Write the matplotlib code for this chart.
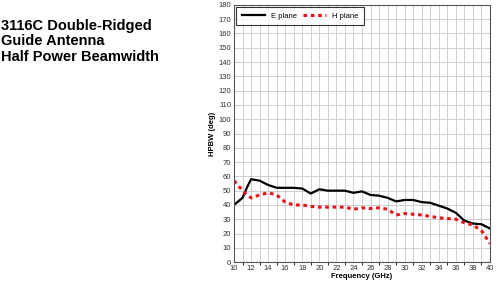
import numpy as np
import matplotlib.pyplot as plt

plt.rcParams['font.family'] = ['Liberation Sans', 'DejaVu Sans']

freq = [10, 11, 11.5, 12, 13, 14, 15, 16, 17, 18, 19, 20, 21, 22, 23, 24, 25,
        26, 27, 28, 29, 30, 31, 32, 33, 34, 35, 36, 37, 38, 39, 40]
e_plane = [40, 45, 52, 58, 57, 54, 52, 52, 52, 51.5, 48, 51, 50, 50, 50, 48.5,
           49.5, 47, 46.5, 45, 42.5, 43.5, 43.5, 42, 41.5, 39.5, 37.5, 34.5,
           29, 27, 26.5, 23.5]
h_plane = [57, 50, 47, 45, 47, 48.5, 47, 42, 40, 40, 39, 38.5, 38.5, 38.5,
           38.5, 37, 38, 37.5, 38, 37, 33, 34, 33.5, 33, 32, 31, 30.5, 30,
           27.5, 26, 22, 13]

fig = plt.figure(figsize=(5, 2.89), dpi=100)
ax = fig.add_axes([0.468, 0.093, 0.512, 0.89])

ax.plot(freq, e_plane, color='black', lw=1.6, label='E plane')
ax.plot(freq, h_plane, color='#e8141c', lw=2.2, linestyle=(0, (1.2, 1.2)),
        label='H plane')

ax.set_xlim(10, 40)
ax.set_ylim(0, 180)
ax.set_xticks(np.arange(10, 41, 2))
ax.set_xticks(np.arange(10, 41, 1), minor=True)
ax.set_yticks(np.arange(0, 181, 10))
ax.grid(True, which='both', color='#c8c8c8', lw=0.6)
ax.tick_params(labelsize=5.5, length=0, pad=2, colors='#333333')
for s in ax.spines.values():
    s.set_color('#555555')
    s.set_linewidth(0.8)

ax.set_xlabel('Frequency (GHz)', fontsize=5.5, fontweight='bold', labelpad=1)
ax.set_ylabel('HPBW (deg)', fontsize=5.5, fontweight='bold', labelpad=2)

leg = ax.legend(loc='upper left', ncol=2, fontsize=5.5, frameon=True,
                fancybox=False, borderaxespad=0.3, handlelength=3,
                columnspacing=0.8, borderpad=0.7)
leg.get_frame().set_edgecolor('black')
leg.get_frame().set_linewidth(0.8)

fig.text(0.002, 0.935, '3116C Double-Ridged\nGuide Antenna\nHalf Power Beamwidth',
         fontsize=10.5, fontweight='bold', va='top', ha='left', linespacing=1.15)

fig.savefig('out.png', dpi=100)
